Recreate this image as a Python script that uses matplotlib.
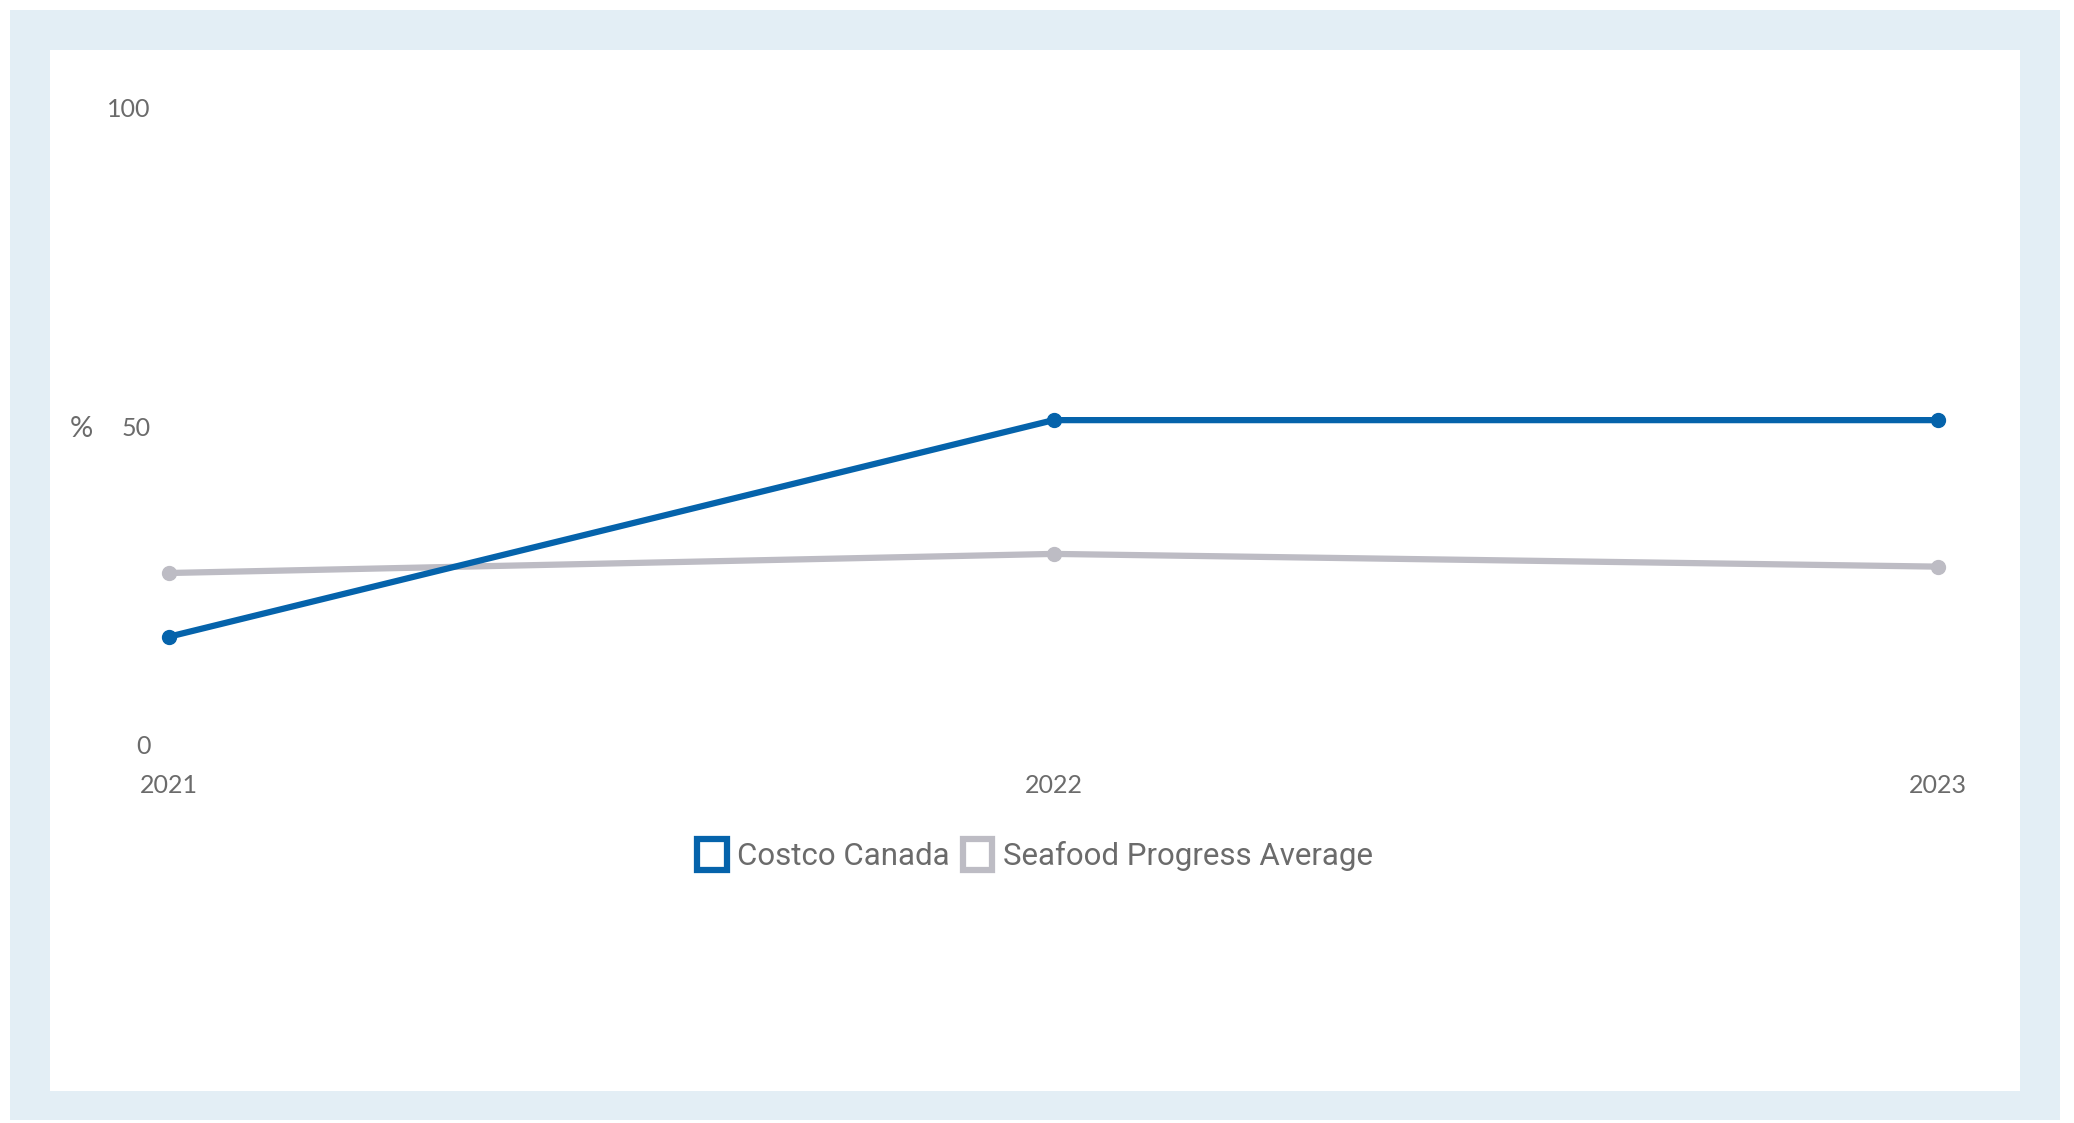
import matplotlib
matplotlib.use("Agg")
import matplotlib.pyplot as plt
from matplotlib.patches import Rectangle, Patch

years = [2021, 2022, 2023]
costco = [17, 51, 51]
seafood_avg = [27, 30, 28]
y_ticks = [0, 50, 100]

blue = "#0563ab"
grey = "#bdbcc4"
text_grey = "#6b6b6b"
panel = "#e3eef5"

fig = plt.figure(figsize=(20.74, 11.23), dpi=100)
fig.patch.set_facecolor("white")

# light blue frame with white card on top, both behind the axes
W, H = 2074.0, 1123.0
fig.patches.append(Rectangle((10 / W, 3 / H), 2050 / W, 1110 / H,
                             transform=fig.transFigure, facecolor=panel,
                             edgecolor="none", zorder=-2))
fig.patches.append(Rectangle((50 / W, (H - 1091) / H), 1970 / W, 1041 / H,
                             transform=fig.transFigure, facecolor="white",
                             edgecolor="none", zorder=-1))

ax = fig.add_axes([169 / W, 1 - 745 / H, 1769 / W, 637 / H])
ax.set_facecolor("none")

ax.plot(years, seafood_avg, color=grey, linewidth=4.5, marker="o",
        markersize=10, clip_on=False, label="Seafood Progress Average", zorder=3)
ax.plot(years, costco, color=blue, linewidth=4.5, marker="o",
        markersize=10, clip_on=False, label="Costco Canada", zorder=4)

ax.set_xlim(2021, 2023)
ax.set_ylim(0, 100)
ax.set_xticks(years)
ax.set_xticklabels([str(y) for y in years])
ax.set_yticks(y_ticks)
for s in ax.spines.values():
    s.set_visible(False)
ax.tick_params(axis="both", length=0, labelcolor=text_grey, labelsize=18)
ax.tick_params(axis="x", pad=21)
ax.tick_params(axis="y", pad=13)
for lab in ax.get_xticklabels() + ax.get_yticklabels():
    lab.set_family(["Lato", "DejaVu Sans"])

ax.annotate("%", xy=(0, 50), xycoords=("axes fraction", "data"),
            xytext=(-63, -2), textcoords="offset points", ha="center",
            va="center", fontsize=21, color=text_grey,
            family=["Lato", "DejaVu Sans"])

handles = [Patch(facecolor="white", edgecolor=blue, linewidth=4.5),
           Patch(facecolor="white", edgecolor=grey, linewidth=4.5)]
leg = ax.legend(handles, ["Costco Canada", "Seafood Progress Average"],
                loc="center", bbox_to_anchor=(1035 / W, 1 - 855 / H),
                bbox_transform=fig.transFigure, ncol=2, frameon=False,
                prop={"family": ["Roboto", "DejaVu Sans"], "size": 22.5},
                handlelength=0.95, handleheight=1.15, handletextpad=0.35,
                columnspacing=0.4)
for t in leg.get_texts():
    t.set_color(text_grey)

plt.savefig("out.png", dpi=100)
